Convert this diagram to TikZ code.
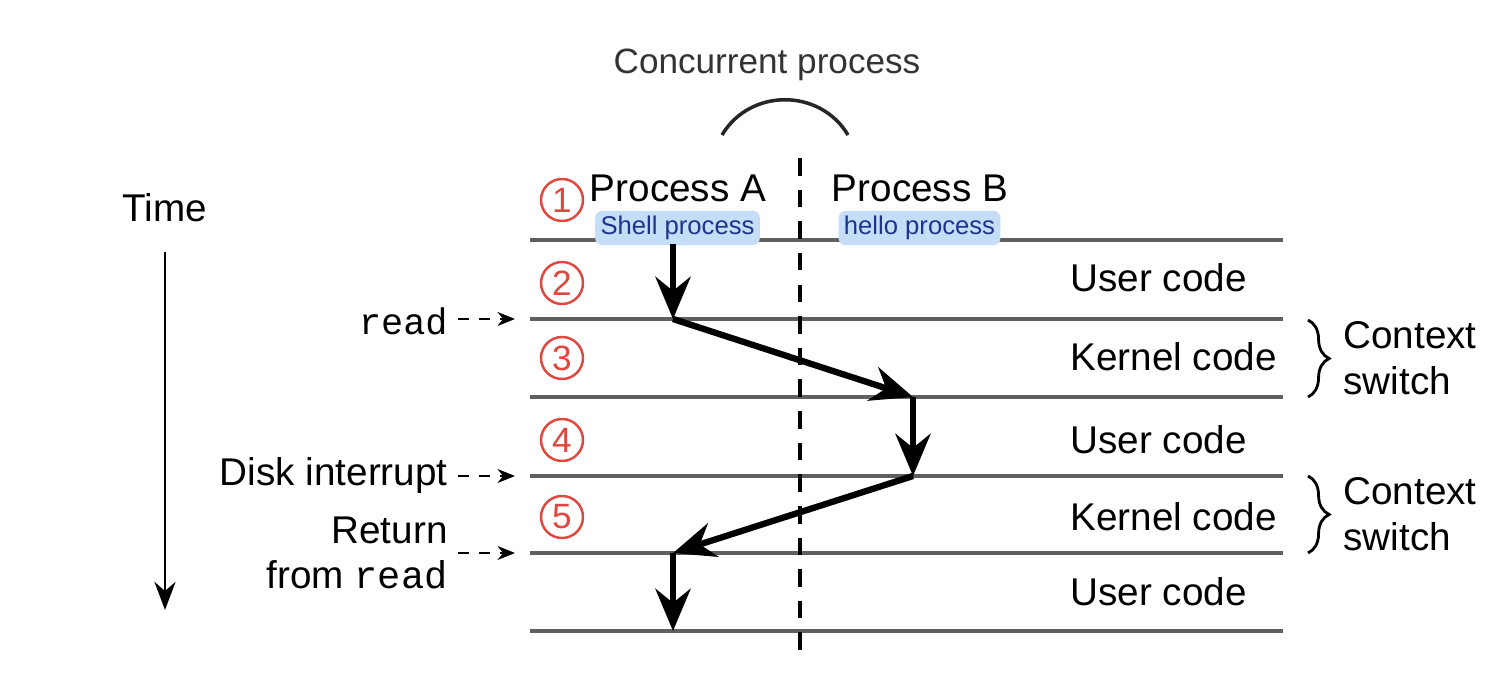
\documentclass[tikz,border=0pt]{standalone}
\usepackage{fontspec}
\setmainfont{Liberation Sans}
\setmonofont{Liberation Mono}
\usetikzlibrary{arrows.meta,decorations.pathreplacing}
\definecolor{numred}{RGB}{222,72,62}
\definecolor{hlblue}{RGB}{196,222,248}
\definecolor{inkblue}{RGB}{30,52,140}
\definecolor{rulegray}{RGB}{95,95,95}
\tikzset{
  timeline/.style={draw=rulegray,line width=1.3pt},
  flow/.style={line width=1.8pt,-{Stealth[length=12pt,width=10pt,inset=4pt]}},
  hint/.style={dashed,line width=0.6pt,-{Stealth[length=5pt,width=4pt]}},
  stepnum/.style={circle,draw=numred,text=numred,line width=0.7pt,minimum size=0.42cm,inner sep=0pt,font=\fontsize{10}{10}\selectfont},
  note/.style={fill=hlblue,rounded corners=2pt,text=inkblue,inner sep=1.5pt,minimum height=0.26cm,font=\fontsize{7.3}{7.3}\selectfont},
  lbl/.style={font=\fontsize{11}{13}\selectfont}
}
\begin{document}
\begin{tikzpicture}
\useasboundingbox (0,0) rectangle (15.1,6.84);

\draw[timeline] (5.30,4.44) -- (12.83,4.44);
\draw[timeline] (5.30,3.65) -- (12.83,3.65);
\draw[timeline] (5.30,2.87) -- (12.83,2.87);
\draw[timeline] (5.30,2.08) -- (12.83,2.08);
\draw[timeline] (5.30,1.31) -- (12.83,1.31);
\draw[timeline] (5.30,0.53) -- (12.83,0.53);

\draw[dashed,line width=0.9pt,dash pattern=on 5pt off 4pt] (8.00,5.26) -- (8.00,0.24);

\node[font=\fontsize{10}{10}\selectfont,text=black!80] (conc) at (7.67,6.19) {Concurrent process};
\coordinate (arcl) at (7.22,5.49);
\coordinate (arcr) at (8.48,5.49);
\draw[line width=1pt,black!85] (arcl) .. controls (7.50,5.96) and (8.20,5.96) .. (arcr);

\node[lbl] (procA) at (6.78,4.96) {Process A};
\node[lbl] (procB) at (9.20,4.96) {Process B};
\node[note] (shell) at (6.775,4.56) {Shell process};
\node[note] (hello) at (9.195,4.56) {hello process};

\node[stepnum] (s1) at (5.62,4.84) {1};
\node[stepnum] (s2) at (5.62,4.01) {2};
\node[stepnum] (s3) at (5.62,3.26) {3};
\node[stepnum] (s4) at (5.62,2.44) {4};
\node[stepnum] (s5) at (5.62,1.67) {5};

\node[lbl] (time) at (1.65,4.76) {Time};
\coordinate (ttop) at (1.65,4.32);
\coordinate (tbot) at (1.65,0.74);
\draw[line width=0.8pt,-{Stealth[length=8pt,width=6pt]}] (ttop) -- (tbot);

\node[lbl,anchor=east,font=\ttfamily\fontsize{10.5}{13}\selectfont] (read) at (4.60,3.63) {read};
\node[lbl,anchor=east] (disk) at (4.60,2.08) {Disk interrupt};
\node[lbl,anchor=east,align=right] (ret) at (4.60,1.31) {Return\\from \texttt{read}};
\coordinate (h1) at (5.15,3.65);
\coordinate (h2) at (5.15,2.08);
\coordinate (h3) at (5.15,1.31);
\draw[hint] (4.58,3.65) -- (h1);
\draw[hint] (4.58,2.08) -- (h2);
\draw[hint] (4.58,1.31) -- (h3);

\node[lbl,anchor=west] (u1) at (10.58,4.06) {User code};
\node[lbl,anchor=west] (k1) at (10.58,3.27) {Kernel code};
\node[lbl,anchor=west] (u2) at (10.58,2.44) {User code};
\node[lbl,anchor=west] (k2) at (10.58,1.67) {Kernel code};
\node[lbl,anchor=west] (u3) at (10.58,0.92) {User code};

\draw[decorate,decoration={brace,amplitude=6pt},line width=0.8pt] (13.08,3.64) -- (13.08,2.87);
\draw[decorate,decoration={brace,amplitude=6pt},line width=0.8pt] (13.08,2.08) -- (13.08,1.31);
\node[lbl,anchor=west,align=left] (cs1) at (13.31,3.26) {Context\\switch};
\node[lbl,anchor=west,align=left] (cs2) at (13.31,1.70) {Context\\switch};

\coordinate (a0) at (6.73,4.40);
\coordinate (a1) at (6.73,3.65);
\coordinate (b1) at (9.13,2.87);
\coordinate (b2) at (9.13,2.08);
\coordinate (a2) at (6.73,1.31);
\coordinate (a3) at (6.73,0.53);
\draw[flow] (a0) -- (a1);
\draw[flow] (a1) -- (b1);
\draw[flow] (b1) -- (b2);
\draw[flow] (b2) -- (a2);
\draw[flow] (a2) -- (a3);
\end{tikzpicture}
\end{document}
